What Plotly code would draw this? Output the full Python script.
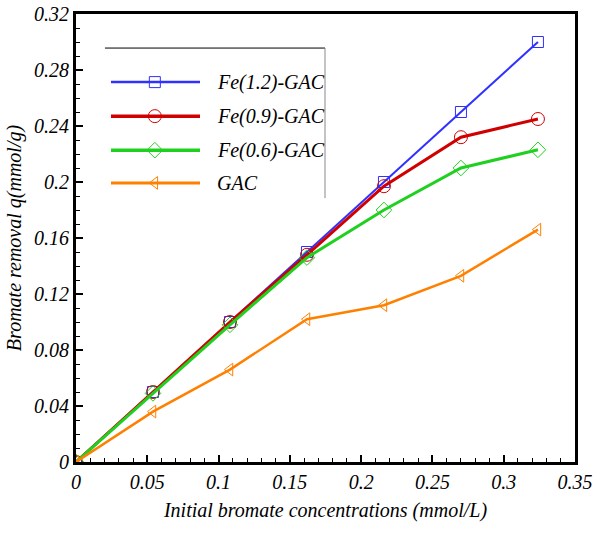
import plotly.graph_objects as go

x_conc = [0, 0.054, 0.108, 0.162, 0.216, 0.270, 0.324]
fe12 = [0, 0.050, 0.100, 0.150, 0.200, 0.250, 0.300]
fe09 = [0, 0.050, 0.100, 0.148, 0.197, 0.232, 0.245]
fe06 = [0, 0.049, 0.098, 0.146, 0.180, 0.210, 0.223]
gac = [0, 0.036, 0.066, 0.102, 0.112, 0.133, 0.166]

names = ["Fe(1.2)-GAC", "Fe(0.9)-GAC", "Fe(0.6)-GAC", "GAC"]
series = [fe12, fe09, fe06, gac]
colors = ["#3030ff", "#d00000", "#20d020", "#ff8000"]
widths = [2, 3, 3, 2.5]
symbols = ["square-open", "circle-open", "diamond-open", "triangle-left-open"]
msizes = [11, 13, 12, 11]

FONT = "Liberation Serif"

fig = go.Figure()
for n, ys, c, w, s, ms in zip(names, series, colors, widths, symbols, msizes):
    fig.add_trace(go.Scatter(
        x=x_conc, y=ys, mode="lines+markers", name=n,
        line=dict(color=c, width=w),
        marker=dict(symbol=s, size=ms, color=c, line=dict(width=1, color=c)),
        showlegend=False,
    ))

# custom legend (in plot-area fractions)
leg_y = [0.848, 0.772, 0.696, 0.623]
for n, c, w, s, ms, ly in zip(names, colors, widths, symbols, msizes, leg_y):
    fig.add_shape(type="line", xref="paper", yref="paper",
                  x0=0.0701, x1=0.2485, y0=ly, y1=ly,
                  line=dict(color=c, width=w + 0.5))
    fig.add_trace(go.Scatter(
        x=[0.158], y=[ly], mode="markers", xaxis="x2", yaxis="y2",
        marker=dict(symbol=s, size=ms, color=c, line=dict(width=1, color=c)),
        showlegend=False, hoverinfo="skip",
    ))
    fig.add_annotation(x=0.2786, y=ly, xref="paper", yref="paper",
                       text=n, showarrow=False, xanchor="left", yanchor="middle",
                       font=dict(family=FONT, size=20, style="italic", color="black"))

fig.add_shape(type="line", xref="paper", yref="paper", x0=0.058, x1=0.499,
              y0=0.924, y1=0.924, line=dict(color="black", width=1))
fig.add_shape(type="line", xref="paper", yref="paper", x0=0.499, x1=0.499,
              y0=0.924, y1=0.589, line=dict(color="#888888", width=1))

tickfont = dict(family=FONT, size=20, style="italic", color="black")
titlefont = dict(family=FONT, size=20, style="italic", color="black")

fig.update_layout(
    template="none",
    width=604, height=545,
    margin=dict(l=76, r=29, t=14, b=83),
    font=dict(family=FONT),
    paper_bgcolor="white", plot_bgcolor="white",
    xaxis=dict(range=[0, 0.35], dtick=0.05, tick0=0, automargin=False,
               showgrid=False, zeroline=False,
               showline=True, linecolor="black", linewidth=3, mirror=True,
               ticks="inside", ticklen=7, tickwidth=2, tickcolor="black",
               minor=dict(dtick=0.01, ticks="inside", ticklen=4, tickwidth=1, tickcolor="black", showgrid=False),
               tickfont=tickfont,
               title=dict(text="Initial bromate concentrations (mmol/L)", font=titlefont, standoff=11)),
    yaxis=dict(range=[0, 0.32], dtick=0.04, tick0=0, automargin=False,
               showgrid=False, zeroline=False,
               showline=True, linecolor="black", linewidth=3, mirror=True,
               ticks="inside", ticklen=7, tickwidth=2, tickcolor="black",
               minor=dict(dtick=0.01, ticks="inside", ticklen=4, tickwidth=1, tickcolor="black", showgrid=False),
               tickfont=tickfont,
               title=dict(text="Bromate removal q(mmol/g)", font=titlefont, standoff=8)),
    xaxis2=dict(range=[0, 1], overlaying="x", visible=False, fixedrange=True),
    yaxis2=dict(range=[0, 1], overlaying="y", visible=False, fixedrange=True),
)

fig.write_html("out.html", post_script="document.body.style.margin='0';",
               config={"displayModeBar": False})
